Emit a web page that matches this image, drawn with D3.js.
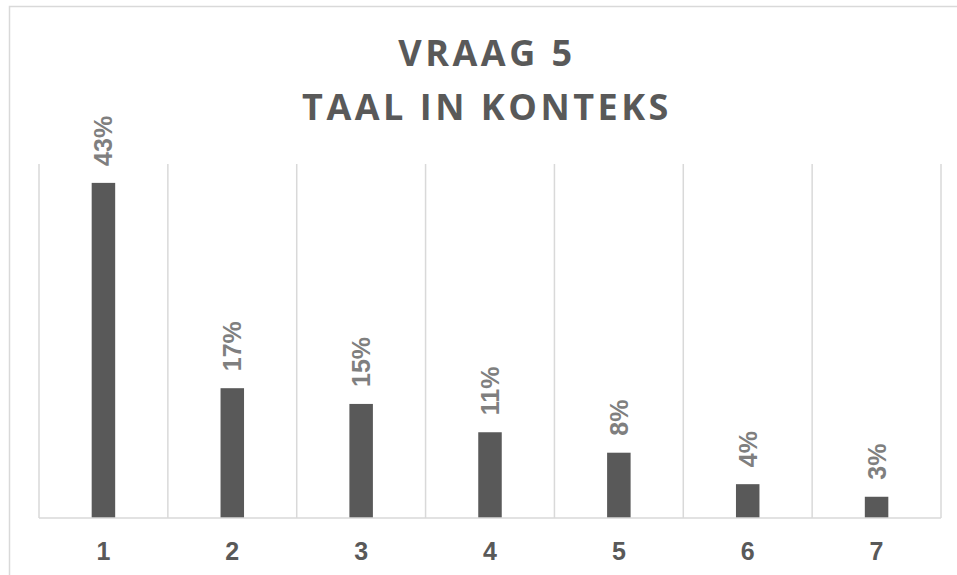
<!DOCTYPE html>
<html>
<head>
<meta charset="utf-8">
<script src="https://cdn.jsdelivr.net/npm/d3@7"></script>
<style>
  body { margin: 0; background: #fff; }
  svg { display: block; }
</style>
</head>
<body>
<div id="chart"></div>
<script>
// chart data
const categories = ["1", "2", "3", "4", "5", "6", "7"];
const values = [0.426, 0.165, 0.145, 0.109, 0.083, 0.043, 0.027];
const valueLabels = ["43%", "17%", "15%", "11%", "8%", "4%", "3%"];
const titleLines = ["VRAAG 5", "TAAL IN KONTEKS"];
const yMax = 0.45;

const width = 957, height = 575;
const plot = { left: 39, right: 941, top: 164, bottom: 518 };

const svg = d3.select("#chart")
    .append("svg")
    .attr("width", width)
    .attr("height", height);

// outer chart border (runs off the right and bottom edges)
svg.append("rect")
    .attr("x", 9.5)
    .attr("y", 6.5)
    .attr("width", 1000)
    .attr("height", 1000)
    .style("fill", "#fff")
    .style("stroke", "#d9d9d9")
    .style("stroke-width", "1.5px");

// title
svg.selectAll(".title")
    .data(titleLines)
    .enter()
    .append("text")
    .attr("class", "title")
    .attr("x", 487)
    .attr("y", (d, i) => 66 + i * 54)
    .attr("text-anchor", "middle")
    .style("font-family", "'Open Sans', sans-serif")
    .style("font-weight", "bold")
    .style("font-size", "36px")
    .style("letter-spacing", "3.5px")
    .style("fill", "#595959")
    .text(d => d);

const x = d3.scaleBand()
    .domain(categories)
    .range([plot.left, plot.right])
    .paddingInner(0)
    .paddingOuter(0);

const y = d3.scaleLinear()
    .domain([0, yMax])
    .range([plot.bottom, plot.top]);

// vertical gridlines at band boundaries
const edges = categories.map(c => x(c)).concat([plot.right]);
svg.selectAll(".grid")
    .data(edges)
    .enter()
    .append("line")
    .attr("class", "grid")
    .attr("x1", d => d)
    .attr("x2", d => d)
    .attr("y1", plot.top)
    .attr("y2", plot.bottom)
    .style("stroke", "#d9d9d9")
    .style("stroke-width", "1.5px");

// bars
const barW = 23.5;
svg.selectAll(".bar")
    .data(values)
    .enter()
    .append("rect")
    .attr("class", "bar")
    .attr("x", (d, i) => x(categories[i]) + x.bandwidth() / 2 - barW / 2)
    .attr("y", d => y(d))
    .attr("width", barW)
    .attr("height", d => plot.bottom - y(d))
    .style("fill", "#595959");

// baseline axis
svg.append("line")
    .attr("x1", plot.left)
    .attr("x2", plot.right)
    .attr("y1", plot.bottom)
    .attr("y2", plot.bottom)
    .style("stroke", "#d9d9d9")
    .style("stroke-width", "1.5px");

// value labels, rotated
svg.selectAll(".vlabel")
    .data(values)
    .enter()
    .append("text")
    .attr("class", "vlabel")
    .attr("transform", (d, i) => {
        const cx = x(categories[i]) + x.bandwidth() / 2 + 9;
        const cy = y(d) - 17;
        return `translate(${cx},${cy}) rotate(-90)`;
    })
    .attr("text-anchor", "start")
    .style("font-family", "'Liberation Sans', Arial, sans-serif")
    .style("font-weight", "bold")
    .style("font-size", "25px")
    .style("fill", "#7f7f7f")
    .text((d, i) => valueLabels[i]);

// category labels
svg.selectAll(".xlabel")
    .data(categories)
    .enter()
    .append("text")
    .attr("class", "xlabel")
    .attr("x", d => x(d) + x.bandwidth() / 2)
    .attr("y", 560)
    .attr("text-anchor", "middle")
    .style("font-family", "'Liberation Sans', Arial, sans-serif")
    .style("font-weight", "bold")
    .style("font-size", "25px")
    .style("fill", "#595959")
    .text(d => d);
</script>
</body>
</html>
